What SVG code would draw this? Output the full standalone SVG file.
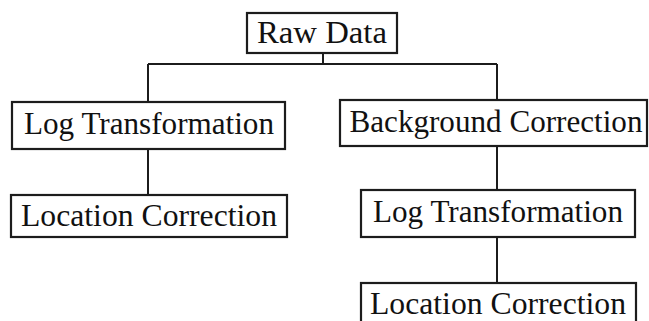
<svg xmlns="http://www.w3.org/2000/svg" width="649" height="321" viewBox="0 0 649 321">
<style>
.box{fill:#fff;stroke:#1c1c1c;stroke-width:2.2}
.lbl{font-family:"Liberation Serif","Times New Roman",serif;font-size:31px;fill:#111;text-anchor:middle}
.edge{fill:none;stroke:#1c1c1c;stroke-width:2}
</style>
<rect width="649" height="321" fill="#fff"/>
<g id="connectors">
<path class="edge" d="M323 53 V64 M148 64 H497 M148 64 V102 M497 64 V100"/>
<path class="edge" d="M148 149 V195"/>
<path class="edge" d="M497 146 V190 M497 237 V283"/>
</g>
<g id="raw-data">
<rect class="box" x="247" y="13" width="150" height="40"/>
<text class="lbl" x="322" y="43" textLength="130" lengthAdjust="spacingAndGlyphs">Raw Data</text>
</g>
<g id="log-left">
<rect class="box" x="12" y="102" width="273" height="47"/>
<text class="lbl" x="149" y="134" textLength="250" lengthAdjust="spacingAndGlyphs">Log Transformation</text>
</g>
<g id="location-left">
<rect class="box" x="11" y="195" width="276" height="42"/>
<text class="lbl" x="149" y="226" textLength="256" lengthAdjust="spacingAndGlyphs">Location Correction</text>
</g>
<g id="background">
<rect class="box" x="340" y="100" width="307" height="46"/>
<text class="lbl" x="496" y="132" textLength="293" lengthAdjust="spacingAndGlyphs">Background Correction</text>
</g>
<g id="log-right">
<rect class="box" x="361" y="190" width="274" height="47"/>
<text class="lbl" x="498" y="222" textLength="250" lengthAdjust="spacingAndGlyphs">Log Transformation</text>
</g>
<g id="location-right">
<rect class="box" x="361" y="283" width="275" height="45"/>
<text class="lbl" x="498" y="314" textLength="256" lengthAdjust="spacingAndGlyphs">Location Correction</text>
</g>
</svg>
